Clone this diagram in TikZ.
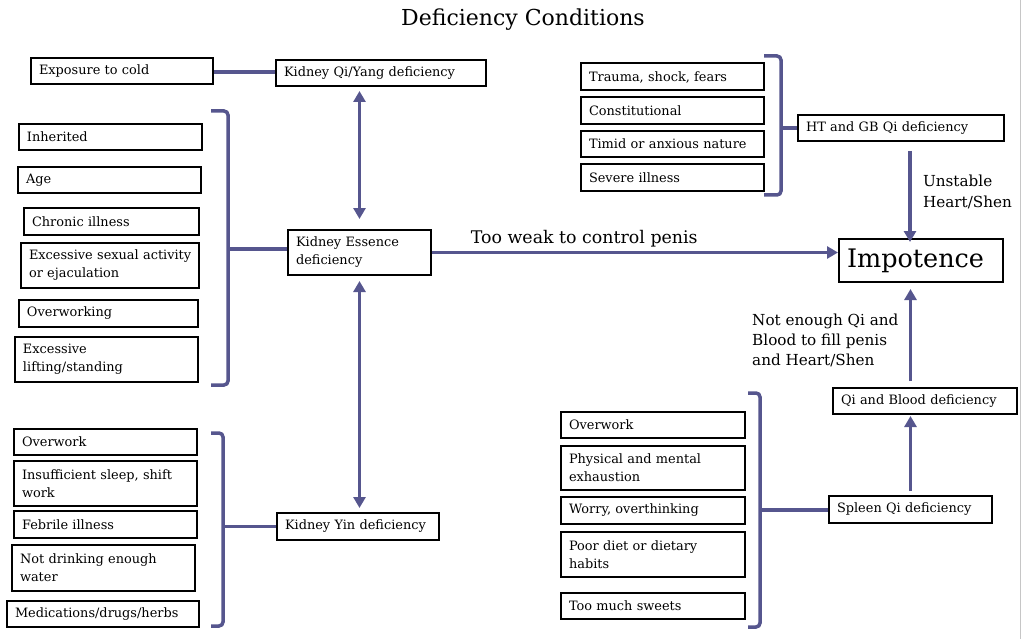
\documentclass[tikz,border=0pt]{standalone}
\usepackage{fontspec}
\setmainfont{DejaVu Serif}
\usetikzlibrary{arrows.meta}
\definecolor{linkc}{RGB}{86,86,142}
\tikzset{
	causebox/.style={rectangle, draw=black, line width=2pt, inner xsep=8pt, inner ysep=2pt, align=left, font=\fontsize{12.9}{18}\selectfont},
	boxsize/.style 2 args={minimum width=#1pt, minimum height=#2pt, text width=#1pt-16pt}
}
\tikzset{
	linkline/.style={draw=linkc, line width=3.5pt},
	arrowline/.style={linkline, -{Triangle[length=11pt, width=12pt]}},
	dblarrow/.style={linkline, {Triangle[length=11pt, width=12pt]}-{Triangle[length=11pt, width=12pt]}},
	bracketline/.style={linkline, rounded corners=4pt},
	labeltext/.style={align=left, font=\fontsize{15.2}{20}\selectfont}
}
\begin{document}
\begin{tikzpicture}[x=1pt, y=-1pt]
		\useasboundingbox (0,0) rectangle (1022,639);
		\draw[gray!45, line width=1.5pt] (1020.5,0) -- (1020.5,639);
		\node[font=\fontsize{22}{26}\selectfont] at (523,20) (title) {Deficiency Conditions};
		
		% kidney side
		\node[causebox, boxsize={182}{26}] at (122,71) (cold) {Exposure to cold};
		\node[causebox, boxsize={210}{26}] at (381,73) (kyang) {Kidney Qi/Yang deficiency};
		\node[causebox, boxsize={143}{45}] at (359.5,252.5) (kess) {Kidney Essence\\deficiency};
		\node[causebox, boxsize={162}{27}] at (358,526.5) (kyin) {Kidney Yin deficiency};
		
		\node[causebox, boxsize={183}{26}] at (110.5,137) (inh) {Inherited};
		\node[causebox, boxsize={183}{26}] at (109.5,180) (age) {Age};
		\node[causebox, boxsize={175}{27}] at (111.5,221.5) (chron) {Chronic illness};
		\node[causebox, boxsize={178}{45}] at (110,265.5) (sex) {\mbox{Excessive sexual activity}\\or ejaculation};
		\node[causebox, boxsize={179}{27}] at (108.5,313.5) (overwk) {Overworking};
		\node[causebox, boxsize={183}{45}] at (106.5,359.5) (lift) {Excessive\\lifting/standing};
		
		\node[causebox, boxsize={183}{26}] at (105.5,442) (yover) {Overwork};
		\node[causebox, boxsize={183}{45}] at (105.5,483.5) (sleep) {Insufficient sleep, shift\\work};
		\node[causebox, boxsize={183}{27}] at (105.5,524.5) (feb) {Febrile illness};
		\node[causebox, boxsize={183}{46}] at (103.5,568) (water) {Not drinking enough\\water};
		\node[causebox, boxsize={192}{26}] at (103,614) (meds) {Medications/drugs/herbs};
		
		% heart, spleen side
		\node[causebox, boxsize={183}{27}] at (672.5,77) (trauma) {Trauma, shock, fears};
		\node[causebox, boxsize={183}{27}] at (672.5,110.5) (const) {Constitutional};
		\node[causebox, boxsize={183}{26}] at (672.5,144) (timid) {Timid or anxious nature};
		\node[causebox, boxsize={183}{27}] at (672.5,177.5) (severe) {Severe illness};
		\node[causebox, boxsize={206}{26}] at (901,128) (htgb) {HT and GB Qi deficiency};
		
		\node[causebox, boxsize={164}{43}, font=\fontsize{25.5}{30}\selectfont] at (921,260.5) (imp) {Impotence};
		\node[causebox, boxsize={184}{26}] at (925,401) (qib) {Qi and Blood deficiency};
		\node[causebox, boxsize={163}{27}] at (910.5,509.5) (spl) {Spleen Qi deficiency};
		
		\node[causebox, boxsize={184}{26}] at (653,425) (sover) {Overwork};
		\node[causebox, boxsize={184}{44}] at (653,468) (phys) {Physical and mental\\exhaustion};
		\node[causebox, boxsize={184}{27}] at (653,510.5) (worry) {Worry, overthinking};
		\node[causebox, boxsize={184}{45}] at (653,554.5) (diet) {Poor diet or dietary\\habits};
		\node[causebox, boxsize={184}{26}] at (653,606) (sweet) {Too much sweets};
		
		% brackets
		\coordinate (tlmid) at (228,249);
		\coordinate (blmid) at (223,526.5);
		\coordinate (trmid) at (781,128);
		\coordinate (brmid) at (760,510);
		\draw[bracketline] (211,111) -- (228,111) -- (228,385) -- (211,385);
		\draw[bracketline] (211,433) -- (223,433) -- (223,626) -- (211,626);
		\draw[bracketline] (764,56) -- (781,56) -- (781,195) -- (764,195);
		\draw[bracketline] (748,393) -- (760,393) -- (760,627) -- (748,627);
		\draw[linkline] (tlmid) -- (tlmid -| kess.west);
		\draw[linkline] (blmid) -- (blmid -| kyin.west);
		\draw[linkline] (trmid) -- (trmid -| htgb.west);
		\draw[linkline] (brmid) -- (brmid -| spl.west);
		
		\draw[linkline] ([yshift=-1pt]cold.east) -- ([yshift=-1pt]cold.east -| kyang.west);
		\draw[dblarrow, shorten <=4pt, shorten >=10pt] (kess.north |- kyang.south) -- (kess.north);
		\draw[dblarrow, shorten <=5pt, shorten >=4pt] (kess.south) -- (kess.south |- kyin.north);
		\draw[arrowline] (kess.east) -- (kess.east -| imp.west) node[pos=0.375, above=0pt, font=\fontsize{17.4}{21}\selectfont] (weak) {Too weak to control penis};
		\draw[arrowline, shorten >=5pt] ([xshift=9pt, yshift=-9pt]htgb.south) -- ([xshift=9pt, yshift=-9pt]htgb.south |- imp.north) node[pos=0.43, right=8pt, labeltext, font=\fontsize{15.2}{21}\selectfont] (unst) {Unstable\\Heart/Shen};
		\draw[arrowline, shorten <=6pt, shorten >=6pt] (spl.north |- qib.north) -- (spl.north |- imp.south) node[pos=0.45, left=7pt, labeltext] (notq) {Not enough Qi and\\Blood to fill penis\\and Heart/Shen};
		\draw[arrowline, shorten <=4pt, shorten >=1pt] (spl.north) -- (spl.north |- qib.south);
		
	\end{tikzpicture}
\end{document}
